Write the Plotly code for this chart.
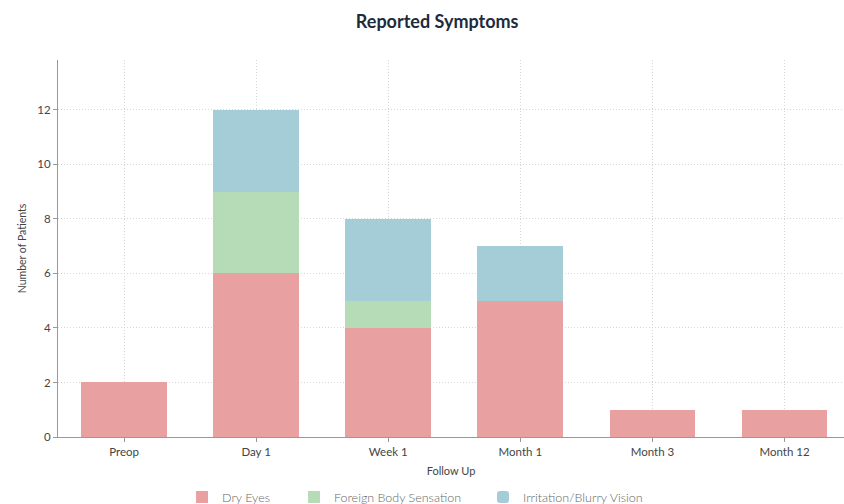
import plotly.graph_objects as go

categories = ["Preop", "Day 1", "Week 1", "Month 1", "Month 3", "Month 12"]
dry_eyes = [2, 6, 4, 5, 1, 1]
foreign_body = [0, 3, 1, 0, 0, 0]
irritation = [0, 3, 3, 2, 0, 0]

series = [
    ("Dry Eyes", dry_eyes, "#e8a1a0", 0, "legend", 0.1578),
    ("Foreign Body Sensation", foreign_body, "#b5dcb7", 0, "legend2", 0.3003),
    ("Irritation/Blurry Vision", irritation, "#a4cdd8", 6, "legend3", 0.5407),
]

font = "Lato, 'Open Sans', sans-serif"
legend_font = dict(family=font, size=12.5, color="#666", weight=300)

fig = go.Figure()
legends = {}
for name, vals, color, radius, leg, lx in series:
    fig.add_trace(go.Bar(
        x=categories, y=vals, name=name, legend=leg,
        marker=dict(color=color, line=dict(width=0), cornerradius=radius),
        hoverinfo="x+y+name",
    ))
    legends[leg] = dict(orientation="h", x=lx, xanchor="left", y=-0.16, yanchor="middle",
                        font=legend_font, itemwidth=30)

grid_dash = "1px,2px"
fig.update_layout(
    barmode="stack",
    bargap=0.35,
    width=844, height=514,
    margin=dict(l=58, r=0, t=60, b=77),
    paper_bgcolor="white", plot_bgcolor="white",
    font=dict(family=font, size=11, color="#555"),
    title=dict(text="Reported Symptoms", x=0.518, xanchor="center", y=0.957, yanchor="middle",
               font=dict(family=font, size=18, color="#1e2b3c", weight="bold")),
    xaxis=dict(
        range=[-0.5, 5.45],
        title=dict(text="Follow Up", font=dict(size=11, color="#444"), standoff=10),
        showline=True, linecolor="#999", linewidth=1,
        ticks="outside", tickcolor="#999", ticklen=4,
        showgrid=True, gridcolor="#d6d6d6", griddash=grid_dash,
        tickfont=dict(size=11.5, color="#444"),
    ),
    yaxis=dict(
        range=[0, 13.83],
        tickvals=[0, 2, 4, 6, 8, 10, 12],
        title=dict(text="Number of Patients", font=dict(size=10.5, color="#444"), standoff=8),
        showline=True, linecolor="#999", linewidth=1,
        ticks="outside", tickcolor="#999", ticklen=4,
        showgrid=True, gridcolor="#d6d6d6", griddash=grid_dash,
        zeroline=False,
        tickfont=dict(size=11.5, color="#444"),
    ),
    showlegend=True,
    **legends,
)

fig.write_html(
    "out.html",
    post_script="document.body.style.overflow='hidden';document.documentElement.style.overflow='hidden';",
)
